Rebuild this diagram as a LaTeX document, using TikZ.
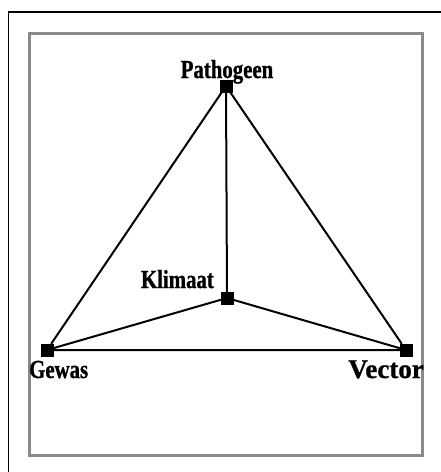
\documentclass[tikz,border=0pt]{standalone}
\usepackage{fontspec}
\setmainfont{Liberation Serif}
\newfontfamily\tagfont[FakeStretch=0.8,FakeBold=1]{Liberation Serif Bold}
\newfontfamily\widetagfont[FakeBold=1]{Liberation Serif Bold}
\usetikzlibrary{positioning}
\definecolor{FrameGray}{HTML}{8A8A8A}
\tikzset{
  knot/.style={draw=black,fill=black,minimum size=12pt,inner sep=0pt},
  edge/.style={black,line width=2pt},
  outer/.style={black,line width=1.4pt},
  box/.style={draw=FrameGray,line width=2.8pt},
  tag/.style={text=black,font=\tagfont\fontsize{26}{28}\selectfont,inner sep=0pt},
  widetag/.style={tag,font=\widetagfont\fontsize{27}{30}\selectfont},
}

\begin{document}
\begin{tikzpicture}[x=1pt,y=-1pt]
  \useasboundingbox (0,0) rectangle (441,472);
  \draw[outer] (441,12)--(8.5,12)--(8.5,472);
  \draw[box] (29.5,33.5) rectangle (422.5,455.5);

  \node[knot] (pat) at (226,86) {};
  \node[knot] (kli) at (227,298) {};
  \node[knot] (gew) at (47,350) {};
  \node[knot] (vec) at (406,350) {};

  \draw[edge] (pat)--(gew) (pat)--(vec) (pat)--(kli);
  \draw[edge] (kli)--(gew) (kli)--(vec) (gew)--(vec);

  \node[tag,anchor=base] (lpat) at (227,78) {Pathogeen};
  \node[tag,anchor=base east] (lkli) at (214,288) {Klimaat};
  \node[tag,anchor=base west] (lgew) at (29,378) {Gewas};
  \node[widetag,anchor=base east] (lvec) at (424,378) {Vector};
\end{tikzpicture}
\end{document}
